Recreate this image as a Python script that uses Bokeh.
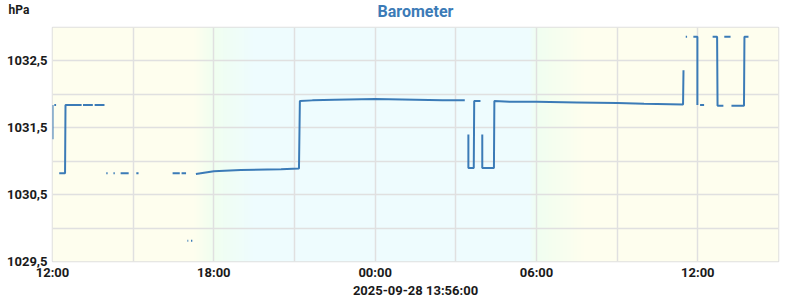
import numpy as np
import pandas as pd
from bokeh.plotting import figure
from bokeh.models import ColumnDataSource, Range1d, FixedTicker, DatetimeTickFormatter, CustomJSTickFormatter, Label
from bokeh.embed import file_html
from bokeh.resources import INLINE

nan = float("nan")

# --- data ---
times = [
    "2025-09-27 12:00", "2025-09-27 12:00", "2025-09-27 12:01",
    "2025-09-27 12:04", "2025-09-27 12:08", "2025-09-27 12:10",
    "2025-09-27 12:15", "2025-09-27 12:28", "2025-09-27 12:29", "2025-09-27 13:05", "2025-09-27 13:06",
    "2025-09-27 13:08", "2025-09-27 13:30", "2025-09-27 13:31",
    "2025-09-27 13:34", "2025-09-27 13:56", "2025-09-27 13:57",
    "2025-09-27 14:00", "2025-09-27 14:03", "2025-09-27 14:04",
    "2025-09-27 14:16", "2025-09-27 14:19", "2025-09-27 14:20",
    "2025-09-27 14:32", "2025-09-27 14:50", "2025-09-27 14:51",
    "2025-09-27 15:07", "2025-09-27 15:12", "2025-09-27 15:13",
    "2025-09-27 16:28", "2025-09-27 16:44", "2025-09-27 16:45",
    "2025-09-27 16:48", "2025-09-27 16:58", "2025-09-27 16:59",
    "2025-09-27 17:01", "2025-09-27 17:03", "2025-09-27 17:04",
    "2025-09-27 17:09", "2025-09-27 17:12", "2025-09-27 17:13",
    "2025-09-27 17:20", "2025-09-27 18:00", "2025-09-27 19:00", "2025-09-27 20:30", "2025-09-27 21:10",
    "2025-09-27 21:12", "2025-09-27 21:40", "2025-09-27 22:30", "2025-09-28 00:00", "2025-09-28 01:30",
    "2025-09-28 02:30", "2025-09-28 03:20", "2025-09-28 03:21",
    "2025-09-28 03:28", "2025-09-28 03:28", "2025-09-28 03:40", "2025-09-28 03:41", "2025-09-28 03:55", "2025-09-28 03:56",
    "2025-09-28 03:59", "2025-09-28 03:59", "2025-09-28 04:25", "2025-09-28 04:26", "2025-09-28 05:00",
    "2025-09-28 06:00", "2025-09-28 07:30", "2025-09-28 09:00", "2025-09-28 10:00", "2025-09-28 11:27",
    "2025-09-28 11:28", "2025-09-28 11:29",
    "2025-09-28 11:33", "2025-09-28 11:36", "2025-09-28 11:37",
    "2025-09-28 11:50", "2025-09-28 11:59", "2025-09-28 11:59", "2025-09-28 12:00",
    "2025-09-28 12:05", "2025-09-28 12:14", "2025-09-28 12:15",
    "2025-09-28 12:33", "2025-09-28 12:43", "2025-09-28 12:44", "2025-09-28 12:57", "2025-09-28 12:58",
    "2025-09-28 12:59", "2025-09-28 13:13", "2025-09-28 13:14",
    "2025-09-28 13:15", "2025-09-28 13:43", "2025-09-28 13:44", "2025-09-28 13:53",
]
pressure = [
    1031.33, 1031.84, nan,
    1031.84, 1031.84, nan,
    1030.82, 1030.82, 1031.84, 1031.84, nan,
    1031.84, 1031.84, nan,
    1031.84, 1031.84, nan,
    1030.82, 1030.82, nan,
    1030.82, 1030.82, nan,
    1030.82, 1030.82, nan,
    1030.82, 1030.82, nan,
    1030.82, 1030.82, nan,
    1030.82, 1030.82, nan,
    1029.81, 1029.81, nan,
    1029.81, 1029.81, nan,
    1030.81, 1030.85, 1030.87, 1030.88, 1030.89,
    1031.90, 1031.91, 1031.92, 1031.93, 1031.92,
    1031.91, 1031.91, nan,
    1031.40, 1030.90, 1030.90, 1031.90, 1031.90, nan,
    1031.40, 1030.90, 1030.90, 1031.90, 1031.89,
    1031.89, 1031.88, 1031.87, 1031.86, 1031.85,
    1032.36, nan,
    1032.86, 1032.86, nan,
    1032.86, 1032.86, 1031.84, nan,
    1031.84, 1031.84, nan,
    1032.86, 1032.86, 1031.83, 1031.83, nan,
    1032.86, 1032.86, nan,
    1031.83, 1031.83, 1032.86, 1032.86,
]

title_text = "Barometer"
unit_text = "hPa"
time_text = "2025-09-28 13:56:00"

x_start = "2025-09-27 12:00"
x_end = "2025-09-28 15:00"
y_start = 1029.5
y_end = 1033.0
major_x = ["2025-09-27 12:00", "2025-09-27 18:00", "2025-09-28 00:00", "2025-09-28 06:00", "2025-09-28 12:00"]
minor_x = ["2025-09-27 15:00", "2025-09-27 21:00", "2025-09-28 03:00", "2025-09-28 09:00", "2025-09-28 15:00"]
major_y = [1029.5, 1030.5, 1031.5, 1032.5]
minor_y = [1030.0, 1031.0, 1032.0, 1033.0]

# day / night background stops
bg_times = ["2025-09-27 12:00", "2025-09-27 17:15", "2025-09-27 18:00", "2025-09-27 19:30",
            "2025-09-28 05:45", "2025-09-28 06:00", "2025-09-28 07:50", "2025-09-28 15:00"]
bg_colors = [(254, 254, 238), (254, 254, 238), (240, 254, 240), (238, 252, 254),
             (238, 252, 254), (240, 254, 240), (254, 254, 238), (254, 254, 238)]

BLUE = "#3b7bb7"
GRID = "#e0e0e0"
FONT = "Roboto"
TXT = "#1a1a1a"


def ms(s):
    return pd.Timestamp(s).value / 1e6


src = ColumnDataSource(dict(t=pd.to_datetime(times), v=pressure))

W, H = 800, 300
L, R, T, B = 52, 22, 27, 39
FW, FH = W - L - R, H - T - B
x0, x1 = ms(x_start), ms(x_end)
ms_per_px = (x1 - x0) / FW
val_per_px = (y_end - y_start) / FH

p = figure(width=W, height=H, x_axis_type="datetime",
           x_range=Range1d(x0, x1), y_range=Range1d(y_start, y_end),
           output_backend="svg", toolbar_location=None,
           min_border_left=L, min_border_right=R, min_border_top=T, min_border_bottom=B)

# background gradient image
N = 1000
cols = np.linspace(x0, x1, N)
stops = np.array([ms(t) for t in bg_times])
rgb = np.array(bg_colors, dtype=float)
img = np.empty((1, N), dtype=np.uint32)
view = img.view(dtype=np.uint8).reshape((1, N, 4))
for k in range(3):
    view[0, :, k] = np.round(np.interp(cols, stops, rgb[:, k])).astype(np.uint8)
view[0, :, 3] = 255
p.image_rgba(image=[img], x=x0, y=y_start, dw=x1 - x0, dh=y_end - y_start, level="image")

p.line("t", "v", source=src, line_color=BLUE, line_width=2)

p.background_fill_color = "white"
p.border_fill_color = "white"
p.outline_line_color = GRID
p.outline_line_width = 1.5

p.xaxis.ticker = FixedTicker(ticks=[ms(t) for t in major_x], minor_ticks=[ms(t) for t in minor_x])
p.yaxis.ticker = FixedTicker(ticks=major_y, minor_ticks=minor_y)
p.xaxis.formatter = DatetimeTickFormatter(hours="%H:%M", hourmin="%H:%M", days="%H:%M",
                                          minutes="%H:%M", minsec="%H:%M")
p.yaxis.formatter = CustomJSTickFormatter(code="return tick.toFixed(1).replace('.', ',');")

for ax in (p.xaxis, p.yaxis):
    ax.axis_line_color = None
    ax.major_tick_line_color = None
    ax.minor_tick_line_color = None
    ax.major_tick_out = 0
    ax.major_tick_in = 0
    ax.minor_tick_out = 0
    ax.minor_tick_in = 0
    ax.major_label_text_font = FONT
    ax.major_label_text_font_style = "bold"
    ax.major_label_text_font_size = "13px"
    ax.major_label_text_color = TXT
    ax.major_label_standoff = 5
p.xaxis.major_label_standoff = 3

p.xaxis.axis_label = time_text
p.xaxis.axis_label_text_font = FONT
p.xaxis.axis_label_text_font_style = "bold"
p.xaxis.axis_label_text_font_size = "13px"
p.xaxis.axis_label_text_color = TXT
p.xaxis.axis_label_standoff = 0

for g in (p.xgrid, p.ygrid):
    g.grid_line_color = GRID
    g.grid_line_width = 1.5
    g.minor_grid_line_color = GRID
    g.minor_grid_line_width = 1.5

# texts outside the frame: labels living in side panels (not clipped to the frame)
title_lbl = Label(x=(x0 + x1) / 2, y=y_end + 16 * val_per_px, text=title_text,
                  text_font=FONT, text_font_style="bold", text_font_size="16px",
                  text_color=BLUE, text_align="center", text_baseline="middle")
unit_lbl = Label(x=x0 - 44 * ms_per_px, y=y_end + 18 * val_per_px, text=unit_text,
                 text_font=FONT, text_font_style="bold", text_font_size="12px",
                 text_color=TXT, text_align="left", text_baseline="middle")
p.add_layout(title_lbl, "above")
p.add_layout(unit_lbl, "right")

open("out.html", "w").write(file_html(p, INLINE))
